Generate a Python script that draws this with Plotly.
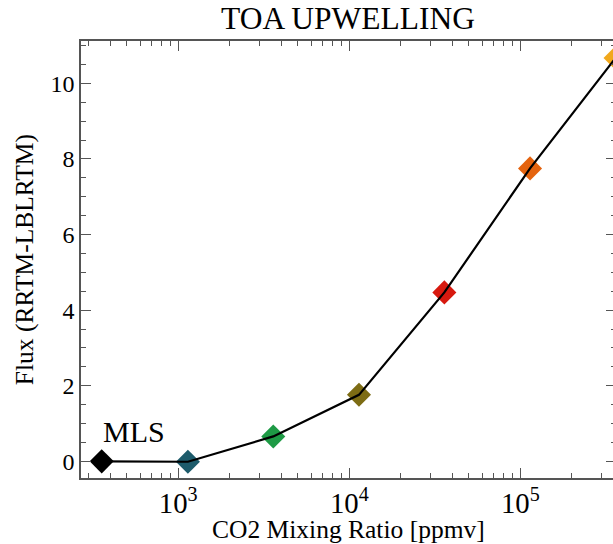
import plotly.graph_objects as go

# Data
co2_ppmv = [357, 1139, 3594, 11390, 35940, 113900, 360000]
flux_diff = [0.0, -0.01, 0.66, 1.76, 4.47, 7.75, 10.67]
marker_colors = ["#000000", "#1d5b6b", "#1e9a45", "#7d6c14", "#d7190f", "#e4630e", "#f1a81c"]

title_text = "TOA UPWELLING"
x_title = "CO2 Mixing Ratio [ppmv]"
y_title = "Flux (RRTM-LBLRTM)"
label_text = "MLS"

FONT = "Liberation Serif"
AXC = "#555555"

fig = go.Figure()
fig.add_trace(go.Scatter(
    x=co2_ppmv, y=flux_diff, mode="markers",
    marker=dict(symbol="diamond", size=18.5, color=marker_colors, line=dict(width=0)),
    cliponaxis=False, showlegend=False, hoverinfo="skip"))
fig.add_trace(go.Scatter(
    x=co2_ppmv, y=flux_diff, mode="lines",
    line=dict(color="black", width=2.2), showlegend=False, hoverinfo="skip"))

# The reference picture is cropped on its right side: the plot frame lies just
# beyond the visible 613 px, so the figure is a little wider than the window.
W_FIG = 625
PL, PR, PT, PB = 81, 618, 41, 478

def px_x(p):
    return (p - PL) / (PR - PL)

def px_y(p):
    return (PB - p) / (PB - PT)

yr = [-0.44, 11.12]
fig.update_layout(
    width=W_FIG, height=544,
    margin=dict(l=PL, r=W_FIG - PR, t=PT, b=544 - PB),
    paper_bgcolor="white", plot_bgcolor="white",
    font=dict(family=FONT, color="black", size=24),
    xaxis=dict(
        type="log", range=[2.4316, 5.559], dtick=1, exponentformat="power",
        showgrid=False, zeroline=False,
        showline=True, linecolor=AXC, linewidth=1.5, mirror="ticks",
        ticks="inside", ticklen=10, tickwidth=1.2, tickcolor=AXC,
        minor=dict(ticks="inside", ticklen=5, tickwidth=1.2, tickcolor=AXC, dtick="D1", showgrid=False),
        tickfont=dict(family=FONT, size=23, color="black"),
    ),
    yaxis=dict(
        range=yr, dtick=2, showgrid=False, zeroline=False,
        showline=True, linecolor=AXC, linewidth=1.5, mirror="ticks",
        ticks="inside", ticklen=10, tickwidth=1.2, tickcolor=AXC,
        minor=dict(ticks="inside", ticklen=5, tickwidth=1.2, tickcolor=AXC, dtick=0.5, showgrid=False),
        tickfont=dict(family=FONT, size=24, color="black"),
    ),
    annotations=[
        dict(text=title_text, xref="paper", yref="paper", x=px_x(349), y=px_y(18),
             xanchor="center", yanchor="middle", showarrow=False,
             font=dict(family=FONT, size=31.5, color="black")),
        dict(text=x_title, xref="paper", yref="paper", x=px_x(349), y=px_y(529),
             xanchor="center", yanchor="middle", showarrow=False,
             font=dict(family=FONT, size=25.5, color="black")),
        dict(text=y_title, xref="paper", yref="paper", x=px_x(24), y=px_y(260),
             xanchor="center", yanchor="middle", showarrow=False, textangle=-90,
             font=dict(family=FONT, size=25.5, color="black")),
        dict(text=label_text, xref="paper", yref="paper", x=px_x(101), y=px_y(431),
             xanchor="left", yanchor="middle", showarrow=False,
             font=dict(family=FONT, size=30, color="black")),
    ],
)

fig.write_html(
    "out.html",
    post_script="document.documentElement.style.overflow='hidden';"
                "document.body.style.overflow='hidden';",
)
